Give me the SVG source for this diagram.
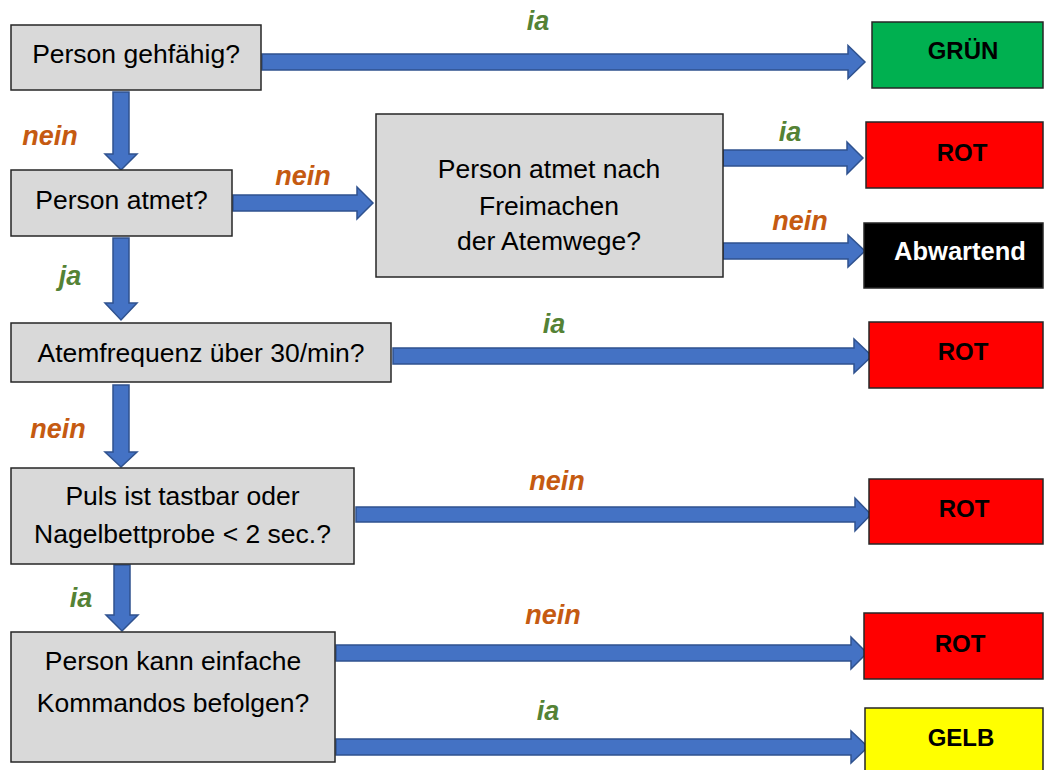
<svg xmlns="http://www.w3.org/2000/svg" width="1045" height="770" viewBox="0 0 1045 770">
<style>
.q{fill:#d9d9d9;stroke:#262626;stroke-width:1.5}
.r{stroke:#262626;stroke-width:1.5}
.qt{font-family:"Liberation Sans",Arial,sans-serif;font-size:26.5px;fill:#000;text-anchor:middle}
.rt{font-family:"Liberation Sans",Arial,sans-serif;font-size:24px;font-weight:bold;fill:#000;text-anchor:middle}
.arr{fill:#4472c4;stroke:#2f528f;stroke-width:1.5;stroke-linejoin:miter}
.lbl{font-family:"Liberation Sans",Arial,sans-serif;font-size:27px;font-weight:bold;font-style:italic;text-anchor:middle}
.no{fill:#c55a11}
.yes{fill:#548235}
</style>
<rect width="1045" height="770" fill="#fff"/>
<g id="connectors">
<path class="arr" d="M262 54 H848 V45.5 L865 62 L848 78.5 V70 H262 Z"/>
<path class="arr" d="M113 92 V154 H105 L121 170 L137 154 H129 V92 Z"/>
<path class="arr" d="M233 195 H357 V187 L373 203 L357 219 V211 H233 Z"/>
<path class="arr" d="M113 238 V303 H105 L121 320 L137 303 H129 V238 Z"/>
<path class="arr" d="M723 150 H847 V142 L863 158 L847 174 V166 H723 Z"/>
<path class="arr" d="M723 243 H848 V235 L865 251 L848 267 V259 H723 Z"/>
<path class="arr" d="M393 348 H854 V339 L872 356 L854 373 V364 H393 Z"/>
<path class="arr" d="M113 385 V452 H105 L121 467 L137 452 H129 V385 Z"/>
<path class="arr" d="M356 507 H855 V498 L871 514.5 L855 531 V522 H356 Z"/>
<path class="arr" d="M114 565 V615 H106 L122 631 L138 615 H130 V565 Z"/>
<path class="arr" d="M336 645 H851 V637 L867 653 L851 669 V661 H336 Z"/>
<path class="arr" d="M336 739 H851 V731 L868 747 L851 763 V755 H336 Z"/>
</g>
<g id="labels">
<text class="lbl yes" x="538" y="30">ia</text>
<text class="lbl no" x="50" y="145">nein</text>
<text class="lbl no" x="303" y="185">nein</text>
<text class="lbl yes" x="790" y="141">ia</text>
<text class="lbl no" x="800" y="230">nein</text>
<text class="lbl yes" x="70" y="285">ja</text>
<text class="lbl yes" x="554" y="333">ia</text>
<text class="lbl no" x="58" y="438">nein</text>
<text class="lbl no" x="557" y="490">nein</text>
<text class="lbl yes" x="81" y="607">ia</text>
<text class="lbl no" x="553" y="624">nein</text>
<text class="lbl yes" x="548" y="720">ia</text>
</g>
<g id="q1"><rect class="q" x="11" y="25" width="250" height="65"/><text class="qt" x="136" y="63">Person gehfähig?</text></g>
<g id="q2"><rect class="q" x="11" y="170" width="221" height="66"/><text class="qt" x="121.5" y="209">Person atmet?</text></g>
<g id="q3"><rect class="q" x="376" y="114" width="347" height="163"/><text class="qt" x="549" y="178">Person atmet nach</text><text class="qt" x="549" y="215">Freimachen</text><text class="qt" x="549" y="250">der Atemwege?</text></g>
<g id="q4"><rect class="q" x="11" y="323" width="380" height="59"/><text class="qt" x="201" y="362">Atemfrequenz über 30/min?</text></g>
<g id="q5"><rect class="q" x="11" y="468" width="343" height="96"/><text class="qt" x="182.5" y="505">Puls ist tastbar oder</text><text class="qt" x="182.5" y="543">Nagelbettprobe &lt; 2 sec.?</text></g>
<g id="q6"><rect class="q" x="11" y="632" width="324" height="130"/><text class="qt" x="173" y="670">Person kann einfache</text><text class="qt" x="173" y="712">Kommandos befolgen?</text></g>
<g id="r1"><rect class="r" x="872" y="22" width="171" height="66" fill="#00b050"/><text class="rt" x="963" y="59">GRÜN</text></g>
<g id="r2"><rect class="r" x="866" y="122" width="177" height="66" fill="#ff0000"/><text class="rt" x="962" y="161">ROT</text></g>
<g id="r3"><rect class="r" x="864" y="223" width="179" height="65" fill="#000"/><text class="rt" x="960" y="260" style="fill:#fff;font-size:25.5px">Abwartend</text></g>
<g id="r4"><rect class="r" x="869" y="322" width="174" height="66" fill="#ff0000"/><text class="rt" x="963" y="360">ROT</text></g>
<g id="r5"><rect class="r" x="869" y="479" width="174" height="65" fill="#ff0000"/><text class="rt" x="964" y="517">ROT</text></g>
<g id="r6"><rect class="r" x="864" y="613" width="179" height="66" fill="#ff0000"/><text class="rt" x="960" y="652">ROT</text></g>
<g id="r7"><rect class="r" x="865" y="708" width="178" height="70" fill="#ffff00"/><text class="rt" x="961" y="746">GELB</text></g>
</svg>
